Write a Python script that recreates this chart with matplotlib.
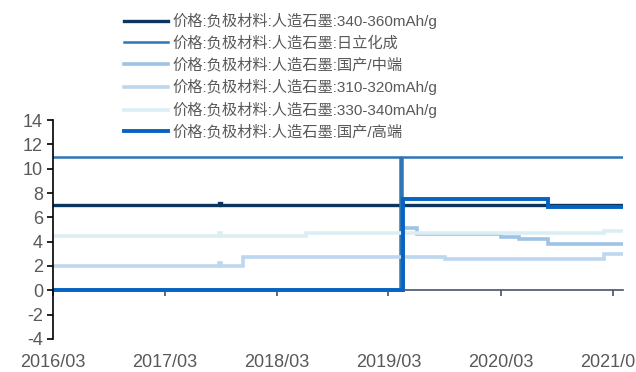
import matplotlib
matplotlib.use("Agg")
import matplotlib.pyplot as plt
import matplotlib.dates as mdates
import pandas as pd

# fonts: latin digits in Liberation Sans, CJK falls through to Noto
plt.rcParams['font.family'] = ['Liberation Sans', 'Noto Sans CJK SC', 'DejaVu Sans']
plt.rcParams['axes.unicode_minus'] = False

# ---- data (change points, step-post) ----
end_date = '2021-04-05'

labels = ['价格:负极材料:人造石墨:340-360mAh/g',
          '价格:负极材料:人造石墨:日立化成',
          '价格:负极材料:人造石墨:国产/中端',
          '价格:负极材料:人造石墨:310-320mAh/g',
          '价格:负极材料:人造石墨:330-340mAh/g',
          '价格:负极材料:人造石墨:国产/高端']

d_340_360 = ['2016-03-01', '2017-08-25', '2017-09-02', end_date]
v_340_360 = [7.0, 7.15, 7.0, 7.0]

d_hitachi = ['2016-03-01', '2019-04-08', '2019-04-15', end_date]
v_hitachi = [11.0, 0.0, 11.0, 11.0]

d_mid = ['2016-03-01', '2019-04-16', '2019-06-01', '2020-03-01', '2020-05-01', '2020-08-01', end_date]
v_mid = [0.0, 5.1, 4.65, 4.4, 4.25, 3.77, 3.77]

d_310_320 = ['2016-03-01', '2017-08-25', '2017-09-02', '2017-11-10', '2019-09-01', '2021-02-01', end_date]
v_310_320 = [2.0, 2.25, 2.0, 2.75, 2.55, 2.95, 2.95]

d_330_340 = ['2016-03-01', '2017-08-25', '2017-09-02', '2018-06-05', '2021-02-01', end_date]
v_330_340 = [4.5, 4.7, 4.5, 4.75, 4.9, 4.9]

d_high = ['2016-03-01', '2019-04-17', '2020-08-01', end_date]
v_high = [0.0, 7.5, 6.85, 6.85]

series = [(d_340_360, v_340_360), (d_hitachi, v_hitachi), (d_mid, v_mid),
          (d_310_320, v_310_320), (d_330_340, v_330_340), (d_high, v_high)]
colors = ['#0c355f', '#2e75b6', '#9dc3e6', '#bdd7ee', '#daeef3', '#0563c1']
widths = [2.4, 1.8, 2.6, 2.6, 2.6, 2.8]

xticks = ['2016-03-01', '2017-03-01', '2018-03-01', '2019-03-01', '2020-03-01', '2021-03-01']
yticks = [-4, -2, 0, 2, 4, 6, 8, 10, 12, 14]

gray = '#595959'

fig = plt.figure(figsize=(6.36, 3.72), dpi=100)
ax = fig.add_axes([0.083, 0.089, 0.897, 0.588])

handles = []
for (d, v), c, w, lab in zip(series, colors, widths, labels):
    h, = ax.plot(pd.to_datetime(d), v, drawstyle='steps-post', color=c, lw=w,
                 label=lab, solid_joinstyle='miter')
    handles.append(h)

ax.set_ylim(-4, 14)
ax.set_yticks(yticks)
ax.set_xlim(pd.Timestamp('2016-03-01'), pd.Timestamp(end_date))
ax.set_xticks(pd.to_datetime(xticks))
ax.xaxis.set_major_formatter(mdates.DateFormatter('%Y/%m'))

for s in ['top', 'right', 'bottom']:
    ax.spines[s].set_visible(False)
ax.spines['left'].set_color('black')
ax.spines['left'].set_linewidth(1.2)
ax.tick_params(axis='y', direction='out', length=4, width=1.2, color='black',
               labelcolor=gray, labelsize=13, pad=3)
ax.tick_params(axis='x', length=0, labelcolor=gray, labelsize=13, pad=11)

# zero line with tick marks (axis sits at y=0, labels stay at the bottom)
sec = ax.secondary_xaxis(4 / 18)
sec.set_xticks(pd.to_datetime(xticks))
sec.set_xticklabels([])
sec.spines['bottom'].set_color('#44546a')
sec.spines['bottom'].set_linewidth(1.2)
sec.tick_params(direction='out', length=4, width=1.2, color='#44546a')

leg = fig.legend(handles=handles, loc='upper left', bbox_to_anchor=(0.18, 0.99),
                 frameon=False, fontsize=11, handlelength=2.9, handletextpad=0.3,
                 labelspacing=0.45, borderaxespad=0.2)
for t in leg.get_texts():
    t.set_color(gray)

fig.savefig('out.png', dpi=100)
